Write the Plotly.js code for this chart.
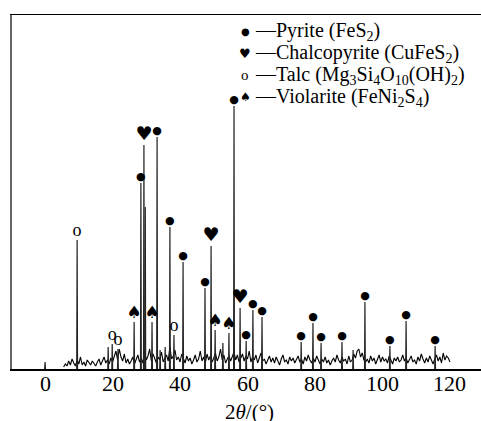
<!DOCTYPE html>
<html>
<head>
<meta charset="utf-8">
<script src="https://cdn.plot.ly/plotly-3.0.1.min.js"></script>
<style>html,body{margin:0;padding:0;background:#fff;}#chart{width:481px;height:421px;}</style>
</head>
<body>
<div id="chart"></div>
<script>
// Background trace: start angle, step (degrees), intensity values
const bgStart = 5.5;
const bgStep = 0.5;
const bgIntensity = [
  2,5,3,8,4,10,6,3,9,5,12,4,7,3,9,6,4,8,5,3,
  7,10,4,8,12,6,9,5,11,7,14,18,9,20,12,8,15,6,10,5,
  8,12,5,9,14,7,11,6,16,9,13,20,8,15,10,6,12,9,17,7,
  11,14,8,22,10,13,19,9,12,7,15,10,6,13,8,11,5,9,14,7,
  10,18,8,12,6,15,9,13,7,11,16,8,12,20,9,14,6,10,13,8,
  12,17,9,14,7,11,15,8,13,10,18,7,12,9,14,6,11,16,8,10,
  5,9,13,7,11,6,12,8,4,10,14,7,9,5,12,8,11,6,9,13,
  7,10,5,12,8,14,9,6,11,7,13,8,5,10,7,12,6,9,4,8,
  11,7,14,9,6,12,8,10,5,13,7,9,15,11,18,20,12,16,9,7,
  10,6,13,8,11,5,9,14,7,12,8,10,6,13,9,5,11,8,12,7,
  9,14,8,11,6,10,13,7,9,5,12,8,15,10,6,11,7,13,9,5,
  10,14,8,12,6,16,9,13,11,7
];

// Diffraction peaks
const peakPos    = [0, 9.5, 18.7, 19.9, 21.6, 26.4, 28.4, 29.3, 29.7, 31.7, 33.2, 34.1, 35.6, 37.0, 38.2, 40.9, 47.4, 49.2, 50.4, 52.7, 54.5, 56.0, 57.8, 59.6, 61.6, 64.3, 75.9, 79.4, 81.8, 88.0, 91.3, 94.8, 102.2, 107.0, 115.6];
const peakHeight = [7, 129, 22, 25, 20, 47, 186, 224, 162, 47, 232, 19, 22, 142, 34, 107, 81, 123, 39, 26, 36, 263, 61, 28, 59, 52, 27, 46, 26, 27, 19, 67, 23, 48, 23];
const peakPhase  = ['', 'T', '', 'T', 'T', 'V', 'P', 'C', '', 'V', 'P', '', '', 'P', 'T', 'P', 'P', 'C', 'V', '', 'V', 'P', 'C', 'P', 'P', 'P', 'P', 'P', 'P', 'P', '', 'P', 'P', 'P', 'P'];

const xTicks = [0, 20, 40, 60, 80, 100, 120];
const xTickLabels = ['0', '20', '40', '60', '80', '100', '120'];
const xTitle = '2<i>θ</i>/(°)';

const phases = [
  {key: 'P', glyph: '●', size: 11, legendSize: 10, font: 'DejaVu Sans', label: 'Pyrite (FeS<sub>2</sub>)'},
  {key: 'C', glyph: '♥', size: 19, legendSize: 13, font: 'DejaVu Sans', label: 'Chalcopyrite (CuFeS<sub>2</sub>)'},
  {key: 'T', glyph: 'o', size: 18, legendSize: 15, font: 'Liberation Serif', label: 'Talc (Mg<sub>3</sub>Si<sub>4</sub>O<sub>10</sub>(OH)<sub>2</sub>)'},
  {key: 'V', glyph: '♠', size: 17, legendSize: 12, font: 'DejaVu Sans', label: 'Violarite (FeNi<sub>2</sub>S<sub>4</sub>)'}
];

const bgX = bgIntensity.map((v, i) => bgStart + i * bgStep);

const px = [], py = [];
peakPos.forEach((p, i) => {
  px.push(p - 0.12, p, p + 0.12, null);
  py.push(0, peakHeight[i], 0, null);
});

const traces = [
  {x: bgX, y: bgIntensity, type: 'scatter', mode: 'lines',
   line: {color: '#000', width: 1.1}, hoverinfo: 'skip', showlegend: false},
  {x: px, y: py, type: 'scatter', mode: 'lines',
   line: {color: '#222', width: 1.2}, hoverinfo: 'skip', showlegend: false}
];

phases.forEach(ph => {
  const xs = [], ys = [], ts = [];
  peakPhase.forEach((k, i) => {
    if (k === ph.key) { xs.push(peakPos[i]); ys.push(peakHeight[i]); ts.push(ph.glyph); }
  });
  traces.push({x: xs, y: ys, text: ts, type: 'scatter', mode: 'text',
    textposition: 'top center', textfont: {family: ph.font, size: ph.size, color: '#000'},
    hoverinfo: 'skip', showlegend: false});
});

const L = 12, T = 15, W = 469, H = 354;
const annotations = [];
phases.forEach((ph, i) => {
  const rowY = 32 + i * 21.7;
  const yp = (369 - rowY) / H;
  annotations.push({xref: 'paper', yref: 'paper', x: (245 - L) / W, y: yp, xanchor: 'center', yanchor: 'middle',
    text: ph.glyph, showarrow: false, font: {family: ph.font, size: ph.legendSize, color: '#000'}});
  annotations.push({xref: 'paper', yref: 'paper', x: (253 - L) / W, y: yp, xanchor: 'left', yanchor: 'middle',
    text: '—' + ph.label, showarrow: false, font: {family: 'Liberation Serif', size: 20, color: '#000'}});
});
xTicks.forEach((v, i) => {
  annotations.push({xref: 'x', yref: 'paper', x: v, y: 0, xanchor: 'center', yanchor: 'middle', yshift: -14,
    text: xTickLabels[i], showarrow: false, font: {family: 'Liberation Serif', size: 22, color: '#000'}});
});
annotations.push({xref: 'x', yref: 'paper', x: 60.5, y: 0, xanchor: 'center', yanchor: 'middle', yshift: -43,
  text: xTitle, showarrow: false, font: {family: 'Liberation Serif', size: 21, color: '#000'}});

const layout = {
  width: 481, height: 421,
  margin: {l: L, r: 0, t: T, b: 421 - T - H},
  paper_bgcolor: '#fff', plot_bgcolor: '#fff',
  font: {family: 'Liberation Serif', color: '#000'},
  xaxis: {range: [-9.8, 129.2], tickvals: xTicks, showticklabels: false, ticks: '',
    showgrid: false, zeroline: false, showline: true, linecolor: '#000', linewidth: 1.5, mirror: true},
  yaxis: {range: [0, 354], showticklabels: false, ticks: '', showgrid: false, zeroline: false,
    showline: true, linecolor: '#666', linewidth: 2},
  annotations: annotations,
  showlegend: false
};

Plotly.newPlot('chart', traces, layout, {staticPlot: true, displayModeBar: false});
</script>
</body>
</html>
